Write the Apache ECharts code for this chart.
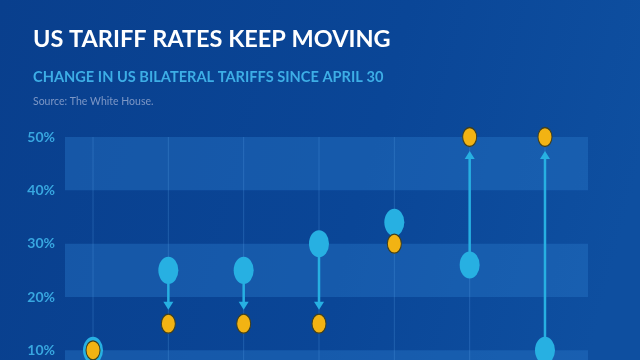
<!DOCTYPE html>
<html>
<head>
<meta charset="utf-8">
<style>
html,body{margin:0;padding:0;background:#0a4494;overflow:hidden;width:640px;height:360px;}
#chart{width:640px;height:420px;}
</style>
<script src="https://cdn.jsdelivr.net/npm/echarts@6/dist/echarts.min.js"></script>
</head>
<body>
<div id="chart"></div>
<script>
// Data
const categories = ['A', 'B', 'C', 'D', 'E', 'F', 'G'];
const oldRates = [10, 25, 25, 30, 34, 26, 10];   // cyan dots (April 30)
const newRates = [10, 15, 15, 15, 30, 50, 50];   // orange dots (now)
const yTicks = [0, 10, 20, 30, 40, 50];

const chart = echarts.init(document.getElementById('chart'), null, {renderer: 'canvas'});

const idx = categories.map((c, i) => i);
const oldData = idx.map(i => [i, oldRates[i]]);
const newData = idx.map(i => [i, newRates[i]]);
const arrowData = idx.map(i => [i, oldRates[i], newRates[i]]);
const vlineData = idx.map(i => [i]);

const CYAN = '#27b0e2';
const ORANGE = '#f2b313';

const option = {
  backgroundColor: {
    type: 'linear', x: 0, y: 0, x2: 1, y2: 0.4,
    colorStops: [
      {offset: 0, color: '#093f8d'},
      {offset: 0.6, color: '#0a4697'},
      {offset: 1, color: '#0e4fa0'}
    ]
  },
  title: [
    {
      text: 'US TARIFF RATES KEEP MOVING',
      left: 28, top: 22,
      textStyle: {color: '#ffffff', fontFamily: 'Lato', fontWeight: 'bold', fontSize: 23.5}
    },
    {
      text: 'CHANGE IN US BILATERAL TARIFFS SINCE APRIL 30',
      left: 28, top: 65,
      textStyle: {color: '#3daee6', fontFamily: 'Lato', fontWeight: 'bold', fontSize: 14.6}
    },
    {
      text: 'Source: The White House.',
      left: 28, top: 91,
      textStyle: {color: '#7d97c6', fontFamily: 'Lato', fontWeight: 'normal', fontSize: 10.5}
    }
  ],
  grid: {left: 65, right: 52, top: 137, height: 266.67, containLabel: false},
  xAxis: {
    type: 'value', min: -0.372, max: 6.571, show: false
  },
  yAxis: {
    type: 'value', min: yTicks[0], max: yTicks[yTicks.length - 1], interval: 10,
    axisLine: {show: false}, axisTick: {show: false},
    splitLine: {show: false},
    splitArea: {show: true, areaStyle: {color: ['rgba(40,120,200,0.42)', 'rgba(0,0,0,0)']}},
    axisLabel: {
      formatter: '{value}%', color: '#38a7e0', fontFamily: 'Lato', fontWeight: 'bold',
      fontSize: 14, margin: 10
    }
  },
  series: [
    {
      type: 'custom', silent: true, z: 1,
      data: vlineData,
      renderItem: function (params, api) {
        const top = api.coord([api.value(0), 50]);
        const bot = api.coord([api.value(0), 0]);
        return {
          type: 'line',
          shape: {x1: top[0], y1: top[1], x2: bot[0], y2: bot[1]},
          style: {stroke: 'rgba(90,160,230,0.28)', lineWidth: 1}
        };
      }
    },
    {
      type: 'custom', silent: true, z: 2,
      data: arrowData,
      renderItem: function (params, api) {
        const i = api.value(0);
        const p0 = api.coord([i, api.value(1)]);
        const p1 = api.coord([i, api.value(2)]);
        const dy = p1[1] - p0[1];
        const len = Math.abs(dy);
        if (len < 40) return null;
        const dir = dy > 0 ? 1 : -1;
        const tip = p1[1] - dir * 14;
        const base = tip - dir * 8;
        const x = p0[0];
        return {
          type: 'group',
          children: [
            {type: 'line', shape: {x1: x, y1: p0[1], x2: x, y2: base + dir * 1},
             style: {stroke: CYAN, lineWidth: 2.5}},
            {type: 'polygon', shape: {points: [[x, tip], [x - 5, base], [x + 5, base]]},
             style: {fill: CYAN}}
          ]
        };
      }
    },
    {
      type: 'scatter', z: 3, data: oldData,
      symbol: 'circle', symbolSize: [20, 27],
      itemStyle: {color: CYAN, opacity: 1}
    },
    {
      type: 'scatter', z: 4, data: newData,
      symbol: 'circle', symbolSize: [14, 19],
      itemStyle: {color: ORANGE, borderColor: '#3f4020', borderWidth: 1.2, opacity: 1}
    }
  ]
};
chart.setOption(option);
</script>
</body>
</html>
